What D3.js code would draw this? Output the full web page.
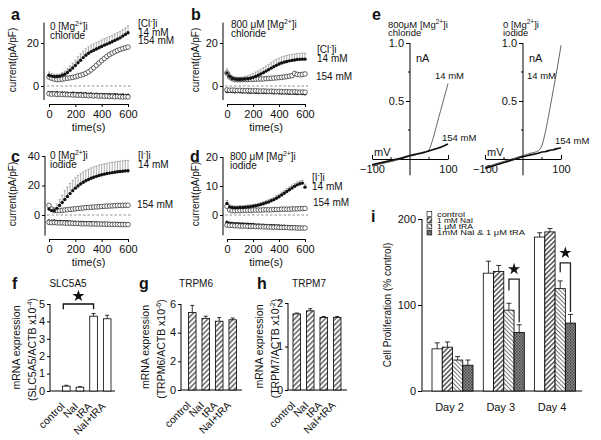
<!DOCTYPE html>
<html><head><meta charset="utf-8">
<script src="https://cdn.jsdelivr.net/npm/d3@7"></script>
<style>body{margin:0;background:#fff}svg{display:block}text{font-family:"Liberation Sans",Arial,Helvetica,sans-serif}</style>
</head><body><svg id="c" width="601" height="440"></svg>
<script>
// ---------- DATA ----------
const timeS=[0,20,40,60,80,100,120,140,160,180,200,220,240,260,280,300,320,340,360,380,400,420,440,460,480,500,520,540,560,580,600];
const a14out=[5,4.6,4.4,4.4,4.6,5,5.5,6.3,7.3,8.4,9.5,10.8,12,13.2,14.3,15.2,16,16.6,17.2,17.8,18.4,19,19.5,20,20.6,21.2,21.8,22.4,23.2,24,24.8];
const a14err=[1.5,1.2,1,1,1,1.2,1.5,1.8,2,2.2,2.5,2.8,3,3,3,3,3,3,3,3,3,3,3,3,3,3,3,3,3,3,3.2];
const a154out=[4.2,3.6,3.2,3,3,3.2,3.4,3.6,3.8,4,4.3,4.7,5,5.4,5.9,6.6,7.5,8.5,9.6,10.7,11.8,12.8,13.8,14.6,15.3,15.9,16.5,17,17.4,17.8,18.1];
const a14in=[-3,-3.1,-3.2,-3.1,-3.3,-3.2,-3.4,-3.3,-3.5,-3.4,-3.5,-3.6,-3.5,-3.7,-3.6,-3.8,-3.7,-3.9,-3.8,-4,-3.9,-4,-4.1,-4,-4.2,-4.1,-4.2,-4.3,-4.2,-4.4,-4.3];
const a154in=[-3.6,-3.8,-3.7,-3.9,-3.8,-4,-3.9,-4.1,-4,-4.2,-4.1,-4.3,-4.2,-4.4,-4.3,-4.5,-4.4,-4.6,-4.5,-4.7,-4.6,-4.8,-4.7,-4.9,-4.8,-5,-4.9,-5,-5.1,-5,-5.1];
const b14out=[6,4.5,3.5,3.2,3,3,3.1,3.2,3.4,3.6,4,4.5,5,5.6,6.2,6.9,7.6,8.3,9,9.6,10.2,10.7,11.1,11.4,11.7,11.9,12.1,12.3,12.4,12.5,12.5];
const b14err=[2,1.5,1,1,1,1,1,1.2,1.4,1.6,1.8,2,2,2.2,2.3,2.4,2.5,2.6,2.7,2.8,2.8,2.8,2.8,2.8,2.8,2.8,2.8,2.8,2.8,2.8,2.8];
const b154out=[6,4.2,3.4,3,2.9,2.9,3,3,3,3.1,3.1,3.2,3.2,3.3,3.3,3.4,3.5,3.6,3.7,3.8,3.9,4,4.2,4.4,4.6,4.8,5.8,5.4,5.2,5.4,5.6];
const b14in=[-2.6,-2.5,-2.6,-2.7,-2.6,-2.7,-2.8,-2.7,-2.8,-2.9,-2.8,-2.9,-3,-2.9,-3,-3.1,-3,-3.1,-3.2,-3.1,-3.2,-3.3,-3.2,-3.3,-3.4,-3.3,-3.4,-3.5,-3.4,-3.5,-3.6];
const b154in=[-1.8,-2,-1.9,-2,-2.1,-2,-2.1,-2.2,-2.1,-2.2,-2.3,-2.2,-2.3,-2.4,-2.3,-2.4,-2.5,-2.4,-2.5,-2.6,-2.5,-2.6,-2.7,-2.6,-2.7,-2.8,-2.7,-2.8,-2.9,-2.8,-2.9];
const c14out=[4,3,3,4.5,6.5,8.5,10.5,12.5,14.5,16.5,18.2,19.7,21,22.2,23.2,24.1,24.9,25.6,26.2,26.8,27.3,27.7,28.1,28.4,28.7,29,29.3,29.5,29.7,29.9,30];
const c14err=[3,2,2,3,4,5,6,6.5,7,7,7,7,7,7,7,7,7,7,7,7,7,7,7,7,7,7,7,7,7,7,7];
const c154out=[6.5,4,3,3,3,3.2,3.4,3.6,3.8,4,4.2,4.4,4.6,4.8,5,5.1,5.2,5.4,5.5,5.6,5.8,5.9,6,6.1,6.2,6.3,6.4,6.5,6.5,6.6,6.6];
const c14in=[-4,-4.2,-4.1,-4.3,-4.4,-4.3,-4.5,-4.6,-4.7,-4.8,-4.9,-5,-5,-5.1,-5.2,-5.2,-5.3,-5.4,-5.4,-5.5,-5.5,-5.6,-5.6,-5.7,-5.7,-5.8,-5.8,-5.9,-5.9,-6,-6];
const c154in=[-5,-5.2,-5.1,-5.3,-5.4,-5.3,-5.5,-5.6,-5.5,-5.7,-5.8,-5.7,-5.9,-6,-5.9,-6,-6.1,-6,-6.2,-6.1,-6.2,-6.3,-6.2,-6.3,-6.4,-6.3,-6.4,-6.5,-6.4,-6.5,-6.5];
const d14out=[4,2.8,2.6,2.5,2.5,2.6,2.6,2.7,2.8,2.9,3,3.2,3.4,3.6,3.9,4.2,4.5,4.9,5.3,5.8,6.3,6.9,7.5,8.1,8.7,9.3,9.9,10.4,10.8,11,9.6];
const d14err=[1,0.8,0.6,0.6,0.6,0.6,0.6,0.6,0.6,0.6,0.6,0.6,0.6,0.7,0.7,0.7,0.8,0.8,0.8,0.9,0.9,1,1,1,1,1,1,1,1,1,1];
const d154out=[3,1.8,1.5,1.5,1.5,1.5,1.6,1.6,1.6,1.6,1.7,1.7,1.7,1.7,1.8,1.8,1.8,1.8,1.9,1.9,1.9,2,2,2,2,2.1,2.1,2.1,2.2,2.2,2.3];
const d14in=[-2.5,-2.8,-2.9,-3,-3,-3.1,-3.1,-3.2,-3.2,-3.3,-3.3,-3.4,-3.4,-3.5,-3.5,-3.6,-3.6,-3.7,-3.7,-3.8,-3.8,-3.9,-3.9,-4,-4,-4.1,-4.1,-4.2,-4.2,-4.3,-4.3];
const d154in=[-3.5,-3.6,-3.6,-3.7,-3.7,-3.8,-3.8,-3.8,-3.9,-3.9,-3.9,-4,-4,-4,-4.1,-4.1,-4.1,-4.2,-4.2,-4.2,-4.3,-4.3,-4.3,-4.3,-4.4,-4.4,-4.4,-4.5,-4.5,-4.5,-4.5];
const ivV=[-100,-80,-60,-40,-20,0,20,40,50,60,70,80,90,100];
const ivChl14=[-0.06,-0.045,-0.03,-0.015,0.005,0.025,0.04,0.055,0.08,0.17,0.29,0.41,0.53,0.65];
const ivChl154=[-0.05,-0.035,-0.02,-0.005,0.01,0.03,0.045,0.06,0.07,0.08,0.09,0.10,0.115,0.13];
const ivIod14=[-0.07,-0.05,-0.03,-0.01,0.01,0.03,0.05,0.07,0.12,0.25,0.42,0.6,0.78,0.98];
const ivIod154=[-0.08,-0.06,-0.04,-0.02,0.0,0.02,0.035,0.05,0.06,0.065,0.075,0.08,0.09,0.095];
const geneCats=["control","NaI","tRA","NaI+tRA"];
const slc5a5=[0.28,0.22,4.3,4.15], slc5a5Err=[0.05,0.03,0.15,0.2];
const trpm6=[5.4,5.0,4.8,4.9], trpm6Err=[0.5,0.15,0.25,0.12];
const trpm7=[1.75,1.82,1.67,1.67], trpm7Err=[0.02,0.05,0.02,0.02];
const days=["Day 2","Day 3","Day 4"];
const treatments=["control","1 mM NaI","1 \u03bcM tRA","1mM NaI & 1 \u03bcM tRA"];
const prolControl=[49,137,179], prolControlErr=[7,14,5];
const prolNaI=[51,139,185], prolNaIErr=[6,7,4];
const prolTRA=[36,94,119], prolTRAErr=[4,8,9];
const prolCombo=[30,68,79], prolComboErr=[6,9,10];
const starDays=["Day 3","Day 4"], starTop=[130,149], starLeftEnd=[117,138], starRightEnd=[80,92];

// ---------- DRAW ----------
const FONT='"Liberation Sans", Arial, Helvetica, sans-serif';
const TICKCOL="#111";
const svg=d3.select("#c");
const defs=svg.append("defs");
function hatch(id,rot,color,sw,sp,bg){
  const p=defs.append("pattern").attr("id",id).attr("patternUnits","userSpaceOnUse")
    .attr("width",sp).attr("height",sp).attr("patternTransform",`rotate(${rot})`);
  p.append("rect").attr("width",sp).attr("height",sp).attr("fill",bg);
  p.append("line").attr("x1",sp/2).attr("x2",sp/2).attr("y1",0).attr("y2",sp).attr("stroke",color).attr("stroke-width",sw);
}
hatch("hGene",45,"#111",1,3.6,"#fff");
hatch("hNaI",45,"#111",1.1,3.4,"#fff");
hatch("hTRA",-45,"#777",1,3,"#fff");
(function(){
  const p=defs.append("pattern").attr("id","hCombo").attr("patternUnits","userSpaceOnUse").attr("width",3).attr("height",3);
  p.append("rect").attr("width",3).attr("height",3).attr("fill","#8a8a8a");
  p.append("rect").attr("width",1.5).attr("height",1.5).attr("fill","#444");
  p.append("rect").attr("x",1.5).attr("y",1.5).attr("width",1.5).attr("height",1.5).attr("fill","#555");
})();
const fills=["#fff","url(#hNaI)","url(#hTRA)","url(#hCombo)"];

function styleAxis(s,size){
  s.attr("font-family",FONT).attr("font-size",size||11);
  s.selectAll("line").attr("stroke","#000");
  s.selectAll("path").attr("stroke","#000");
  s.selectAll("text").attr("fill","#111");
}
function rightText(parent,xr,y,str,size){
  const t=parent.append("text").attr("x",xr).attr("y",y).attr("font-size",size).attr("text-anchor","start").attr("fill",TICKCOL).text(str);
  const w=t.node().getComputedTextLength();
  t.attr("x",xr-w);
  return t;
}
function leftAxis(parent,scale,ax,ticks,fmt,tickLen,lo,hi,size){
  const g=parent.append("g").attr("transform",`translate(${ax},0)`)
    .call(d3.axisLeft(scale).tickValues(ticks).tickSize(tickLen).tickSizeOuter(0).tickFormat(()=>""));
  g.select(".domain").remove();
  g.append("line").attr("y1",scale(lo)).attr("y2",scale(hi));
  styleAxis(g);
  ticks.forEach(v=>rightText(parent,ax-tickLen-2,scale(v)+3.8,fmt(v),size||11));
  return g;
}
function rich(parent,x,y,parts,size,anchor,transform){
  const t=parent.append("text").attr("x",x).attr("y",y).attr("font-size",size).attr("text-anchor",anchor||"start").attr("fill","#111");
  if(transform)t.attr("transform",transform);
  let shifted=false;
  parts.forEach(p=>{
    if(typeof p==="string"){
      const ts=t.append("tspan").text(p);
      if(shifted){ts.attr("dy",size*0.38);shifted=false;}
    }else{
      t.append("tspan").attr("dy",-size*0.38).attr("font-size",size*0.68).text(p.sup);
      shifted=true;
    }
  });
  return t;
}
function letter(x,y,s){svg.append("text").attr("x",x).attr("y",y).attr("font-size",16).attr("font-weight","bold").attr("fill","#111").text(s);}
function plain(parent,x,y,s,size,anchor){return parent.append("text").attr("x",x).attr("y",y).attr("font-size",size).attr("text-anchor",anchor||"start").attr("fill","#111").text(s);}
const fmtD=d3.format("d"), fmt1=d3.format(".1f");

function timePanel(o){
  const x=d3.scaleLinear().domain([0,600]).range([o.tx0,o.tx1]);
  const y=d3.scaleLinear().domain([0,o.vRef]).range([o.p0,o.pRef]);
  const g=svg.append("g");
  leftAxis(g,y,o.ax,o.yticks,fmtD,3,o.lo,o.hi,11);
  const xg=g.append("g").attr("transform",`translate(0,${o.xAxisY})`)
    .call(d3.axisBottom(x).tickValues([0,200,400,600]).tickSize(3).tickSizeOuter(0).tickPadding(3));
  styleAxis(xg);
  plain(g,(o.tx0+o.tx1)/2,o.xAxisY+27,"time(s)",11,"middle");
  g.append("text").attr("transform",`translate(${o.ylx},${o.yly}) rotate(-90)`).attr("text-anchor","middle").attr("font-size",10).attr("fill","#111").text("current(pA/pF)");
  g.append("line").attr("x1",x(0)-2).attr("x2",x(600)+3).attr("y1",y(0)).attr("y2",y(0))
    .attr("stroke","#777").attr("stroke-dasharray","2.5,2").attr("stroke-width",0.8);
  const eb=g.append("g").attr("stroke","#999").attr("stroke-width",0.8);
  o.s14out.forEach((v,i)=>{
    const t=timeS[i],e=o.err[i];
    eb.append("line").attr("x1",x(t)).attr("x2",x(t)).attr("y1",y(v)).attr("y2",y(v+e));
    eb.append("line").attr("x1",x(t)-1.2).attr("x2",x(t)+1.2).attr("y1",y(v+e)).attr("y2",y(v+e));
  });
  const open=(arr)=>g.append("g").selectAll("circle").data(arr).join("circle")
    .attr("cx",(d,i)=>x(timeS[i])).attr("cy",d=>y(d)).attr("r",2.3).attr("fill","#fff").attr("stroke","#222").attr("stroke-width",0.7);
  const filled=(arr)=>g.append("g").selectAll("circle").data(arr).join("circle")
    .attr("cx",(d,i)=>x(timeS[i])).attr("cy",d=>y(d)).attr("r",1.7).attr("fill","#111");
  filled(o.s14in); open(o.s154in); open(o.s154out); filled(o.s14out);
  o.texts.forEach(t=>rich(g,t[0],t[1],t[2],10));
}
const mg0=["0 [Mg",{sup:"2+"},"]i"], mg800=["800 \u03bcM [Mg",{sup:"2+"},"]i"];
const cl=["[Cl",{sup:"-"},"]i"], io=["[I",{sup:"-"},"]i"];
timePanel({tx0:49,tx1:128,vRef:20,p0:86,pRef:43,ax:44,lo:-6.5,hi:29.5,yticks:[0,20],xAxisY:104,ylx:16,yly:60,
  s14out:a14out,err:a14err,s154out:a154out,s14in:a14in,s154in:a154in,
  texts:[[50,30,mg0],[50,39,["chloride"]],[138,27,cl],[138,36,["14 mM"]],[138,44,["154 mM"]]]});
timePanel({tx0:227,tx1:305,vRef:20,p0:86,pRef:43,ax:223,lo:-6.5,hi:29.5,yticks:[0,20],xAxisY:104,ylx:199,yly:60,
  s14out:b14out,err:b14err,s154out:b154out,s14in:b14in,s154in:b154in,
  texts:[[231,28,mg800],[231,37,["chloride"]],[317,53,cl],[317,62,["14 mM"]],[316,80,["154 mM"]]]});
timePanel({tx0:49,tx1:128,vRef:40,p0:215,pRef:156,ax:45,lo:-14,hi:40,yticks:[0,20,40],xAxisY:239,ylx:16,yly:194,
  s14out:c14out,err:c14err,s154out:c154out,s14in:c14in,s154in:c154in,
  texts:[[50,159,mg0],[50,168,["iodide"]],[138,159,io],[138,168,["14 mM"]],[137,208,["154 mM"]]]});
timePanel({tx0:227,tx1:305,vRef:20,p0:215,pRef:157,ax:223,lo:-7,hi:20,yticks:[0,10,20],xAxisY:239,ylx:199,yly:194,
  s14out:d14out,err:d14err,s154out:d154out,s14in:d14in,s154in:d154in,
  texts:[[230,160,mg800],[230,169,["iodide"]],[312,181,io],[312,190,["14 mM"]],[313,206,["154 mM"]]]});
letter(11,20,"a");letter(191,20,"b");letter(11,162,"c");letter(190,162,"d");

function ivPanel(o){
  const xv=d3.scaleLinear().domain([-100,100]).range([o.xl,o.xr]);
  const yn=d3.scaleLinear().domain([0,1]).range([159,43]);
  const g=svg.append("g");
  const x0=xv(0);
  const yAx=leftAxis(g,yn,x0,[0.5,1],fmt1,4,-0.14,1,11);
  [0.25,0.75].forEach(v=>yAx.append("line").attr("x1",-2).attr("x2",0).attr("y1",yn(v)).attr("y2",yn(v)).attr("stroke","#000"));
  const xAx=g.append("g").attr("transform",`translate(0,${yn(0)})`)
    .call(d3.axisTop(xv).tickValues([-100,100]).tickSize(4).tickSizeOuter(0).tickFormat(fmtD));
  xAx.selectAll(".tick text").attr("y",14).attr("dy",0);
  [-50,50].forEach(v=>xAx.append("line").attr("x1",xv(v)).attr("x2",xv(v)).attr("y1",0).attr("y2",-2));
  styleAxis(xAx);
  const line=d3.line().x((d,i)=>xv(ivV[i])).y(d=>yn(d)).curve(d3.curveMonotoneX);
  g.append("path").attr("d",line(o.c14)).attr("fill","none").attr("stroke","#555").attr("stroke-width",0.9);
  g.append("path").attr("d",line(o.c154)).attr("fill","none").attr("stroke","#111").attr("stroke-width",1.7);
  plain(g,x0+6,62,"nA",11);
  plain(g,xv(-100)+2,156,"mV",11);
  rich(g,o.tx,28,o.title,9.5);
  rich(g,o.tx,36,[o.title2],9.5);
  plain(g,o.l14[0],o.l14[1],"14 mM",9.5);
  plain(g,o.l154[0],o.l154[1],"154 mM",9.5);
}
ivPanel({xl:372,xr:448,c14:ivChl14,c154:ivChl154,tx:388,title:["800\u03bcM [Mg",{sup:"2+"},"]i"],title2:"chloride",l14:[435,79],l154:[442,141]});
ivPanel({xl:485,xr:561,c14:ivIod14,c154:ivIod154,tx:503,title:["0 [Mg",{sup:"2+"},"]i"],title2:"iodide",l14:[527,79],l154:[555,144]});
letter(372,20,"e");

function genePanel(o){
  const x=d3.scaleBand().domain(geneCats).range(o.xr).paddingInner(0.44);
  const y=d3.scaleLinear().domain([0,o.ymax]).range([o.y0,o.yTop]);
  const g=svg.append("g");
  leftAxis(g,y,o.ax,o.ticks,fmtD,3,0,o.ymax,11);
  g.append("line").attr("x1",o.ax).attr("x2",o.xEnd).attr("y1",y(0)).attr("y2",y(0)).attr("stroke","#000");
  o.vals.forEach((v,i)=>{
    const cx=x(geneCats[i])+x.bandwidth()/2, e=o.errs[i];
    g.append("line").attr("x1",cx).attr("x2",cx).attr("y1",y(v)).attr("y2",y(v+e)).attr("stroke","#000").attr("stroke-width",0.8);
    g.append("line").attr("x1",cx-2).attr("x2",cx+2).attr("y1",y(v+e)).attr("y2",y(v+e)).attr("stroke","#000").attr("stroke-width",0.8);
  });
  g.append("g").selectAll("rect").data(o.vals).join("rect")
    .attr("x",(d,i)=>x(geneCats[i])).attr("width",x.bandwidth())
    .attr("y",d=>y(d)).attr("height",d=>y(0)-y(d))
    .attr("fill",o.fill).attr("stroke","#000").attr("stroke-width",0.8);
  geneCats.forEach(c=>{
    const cx=x(c)+x.bandwidth()/2;
    g.append("text").attr("transform",`translate(${cx-1},${o.y0+16}) rotate(-45)`).attr("text-anchor","end").attr("font-size",10.5).attr("fill","#111").text(c);
  });
  const ly=(o.y0+o.yTop)/2;
  g.append("text").attr("transform",`translate(${o.l1},${ly}) rotate(-90)`).attr("text-anchor","middle").attr("font-size",10.5).attr("fill","#111").text("mRNA expression");
  rich(g,0,0,o.l2parts,10.5,"middle",`translate(${o.l2},${ly+2}) rotate(-90)`);
  plain(g,o.title[0],o.title[1],o.title[2],10,"middle");
  return {x,y,g};
}
const pf=genePanel({xr:[62.5,111],ymax:5,y0:391,yTop:304,ax:50,ticks:[0,1,2,3,4,5],xEnd:115,vals:slc5a5,errs:slc5a5Err,fill:"#fff",
  l1:20,l2:36,l2parts:["(SLC5A5/ACTB x10",{sup:"-4"},")"],title:[68,287,"SLC5A5"]});
genePanel({xr:[188.5,236.5],ymax:6,y0:390,yTop:304,ax:181,ticks:[0,2,4,6],xEnd:242,vals:trpm6,errs:trpm6Err,fill:"url(#hGene)",
  l1:149,l2:165,l2parts:["(TRPM6/ACTB x10",{sup:"-6"},")"],title:[196,287,"TRPM6"]});
genePanel({xr:[293,341],ymax:2,y0:390,yTop:303,ax:288,ticks:[0,1,2],xEnd:347,vals:trpm7,errs:trpm7Err,fill:"url(#hGene)",
  l1:263,l2:279,l2parts:["(TRPM7/ACTB x10",{sup:"-2"},")"],title:[309,287,"TRPM7"]});
{
  const xa=pf.x("control")+pf.x.bandwidth()/2-3, xb=pf.x("tRA")+pf.x.bandwidth()/2, y=pf.y;
  pf.g.append("path").attr("d",`M${xa},${y(4.7)}V${y(5.0)}H${xb}V${y(4.7)}`).attr("fill","none").attr("stroke","#111").attr("stroke-width",1.3);
  pf.g.append("path").attr("d",d3.symbol().type(d3.symbolStar).size(45)()).attr("transform",`translate(${(xa+xb)/2},${y(5.0)-8})`).attr("fill","#111");
}
letter(12,289,"f");letter(139,289,"g");letter(257,289,"h");

{
  const g=svg.append("g");
  const x0=d3.scaleBand().domain(days).range([432,575.6]).paddingInner(0.2);
  const x1=d3.scaleBand().domain(treatments).range([0,x0.bandwidth()]);
  const y=d3.scaleLinear().domain([0,200]).range([391,219]);
  leftAxis(g,y,422,[0,100,200],fmtD,4,0,200,11);
  g.append("line").attr("x1",422).attr("x2",582).attr("y1",y(0)).attr("y2",y(0)).attr("stroke","#000");
  const series=[[prolControl,prolControlErr],[prolNaI,prolNaIErr],[prolTRA,prolTRAErr],[prolCombo,prolComboErr]];
  series.forEach((s,k)=>{
    s[0].forEach((v,i)=>{
      const bx=x0(days[i])+x1(treatments[k]), w=x1.bandwidth(), cx=bx+w/2, e=s[1][i];
      g.append("line").attr("x1",cx).attr("x2",cx).attr("y1",y(v)).attr("y2",y(v+e)).attr("stroke","#000").attr("stroke-width",0.8);
      g.append("line").attr("x1",cx-2.5).attr("x2",cx+2.5).attr("y1",y(v+e)).attr("y2",y(v+e)).attr("stroke","#000").attr("stroke-width",0.8);
      g.append("rect").attr("x",bx).attr("width",w).attr("y",y(v)).attr("height",y(0)-y(v)).attr("fill",fills[k]).attr("stroke","#000").attr("stroke-width",0.8);
    });
  });
  days.forEach(d=>plain(g,x0(d)+x0.bandwidth()/2-3,411,d,11,"middle"));
  g.append("text").attr("transform","translate(391,305) rotate(-90)").attr("text-anchor","middle").attr("font-size",10).attr("fill","#111").text("Cell Proliferation (% control)");
  const legW=[28,36,36,88];
  treatments.forEach((t,k)=>{
    const ry=214+k*6.2;
    g.append("rect").attr("x",427).attr("y",ry-2.4).attr("width",4.8).attr("height",4.8).attr("fill",fills[k]).attr("stroke","#000").attr("stroke-width",0.6);
    g.append("text").attr("x",437).attr("y",ry+2.8).attr("font-size",8).attr("fill","#111")
      .attr("textLength",legW[k]).attr("lengthAdjust","spacingAndGlyphs").text(t);
  });
  starDays.forEach((d,i)=>{
    const xl=x0(d)+x1(treatments[2])+x1.bandwidth()/2, xr=x0(d)+x1(treatments[3])+x1.bandwidth()/2;
    g.append("path").attr("d",`M${xl},${y(starLeftEnd[i])}V${y(starTop[i])}H${xr}V${y(starRightEnd[i])}`).attr("fill","none").attr("stroke","#222").attr("stroke-width",1.3);
    g.append("path").attr("d",d3.symbol().type(d3.symbolStar).size(45)()).attr("transform",`translate(${(xl+xr)/2},${y(starTop[i])-10})`).attr("fill","#111");
  });
}
letter(371,222,"i");
</script></body></html>
